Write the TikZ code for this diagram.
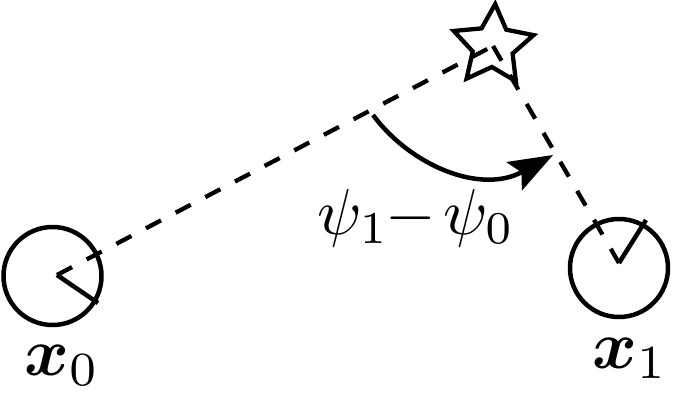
\documentclass[tikz,border=0pt]{standalone}
\usepackage{bm}
\usetikzlibrary{arrows.meta,shapes.geometric}
\newcommand{\bigtxt}[2]{\scalebox{#1}{#2}}
\begin{document}
\begin{tikzpicture}[x=1pt,y=-1pt,
  ring/.style={circle,draw,line width=4.5pt,minimum size=98pt,inner sep=0pt},
  dashline/.style={line width=4.3pt,dash pattern=on 17pt off 16.5pt},
  marker/.style={line width=4.5pt},
  starnode/.style={star,star points=5,star point ratio=2.0,minimum size=84pt,inner sep=0pt,draw,line width=4.3pt,line join=miter,rotate=-3},
  lbl/.style={inner sep=0pt}]
\useasboundingbox (0,0) rectangle (675,416);
\node[ring] (r0) at (52.5,276) {};
\node[ring] (r1) at (619,268) {};
\node[starnode] (st) at (493,46) {};
\coordinate (c0) at (57,275);
\coordinate (c1) at (619,263);
\coordinate (m0) at (98,303);
\coordinate (m1) at (646,220);
\draw[dashline] (c0) -- (st.center);
\draw[dashline] (st.center) -- (c1);
\draw[marker] (c0) -- (m0);
\draw[marker] (c1) -- (m1);
\coordinate (a0) at (373,115);
\coordinate (a1) at (553,155);
\draw[marker,-{Stealth[length=44pt,width=32pt,inset=8pt]}] (a0) .. controls (410,165) and (480,195) .. (a1);
\node[lbl,anchor=base] (psi) at (416,234) {\bigtxt{6.5}{$\psi_1\mkern-1mu{-}\mkern2mu\psi_0$}};
\node[lbl,anchor=base] (l0) at (62,375) {\bigtxt{6.8}{$\bm{x}_0$}};
\node[lbl,anchor=base] (l1) at (630,368) {\bigtxt{6.8}{$\bm{x}_1$}};
\end{tikzpicture}
\end{document}
